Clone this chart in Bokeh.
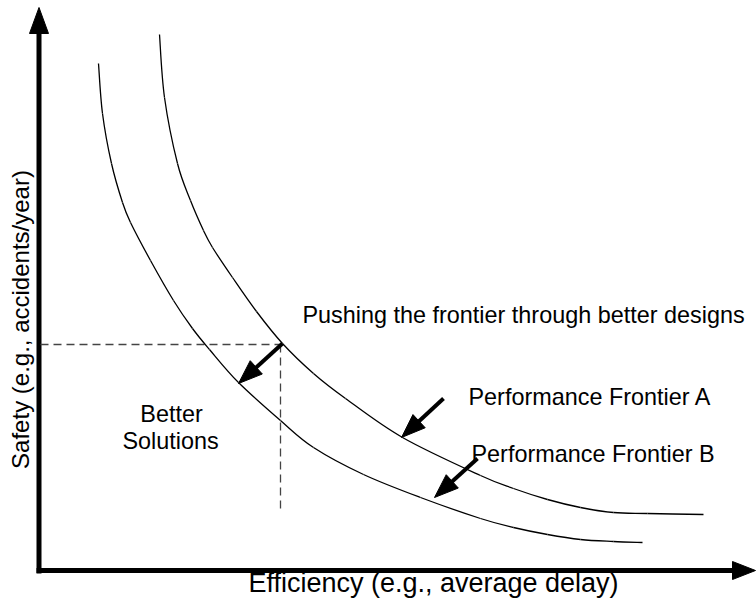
import math
from bokeh.plotting import figure
from bokeh.models import Range1d
from bokeh.core.properties import value
from bokeh.embed import file_html
from bokeh.resources import INLINE

# ---- data (in picture-pixel units) ----
frontier_a_x = [159, 164, 177, 190, 203, 212, 232, 256, 282, 313, 345, 402, 480, 513, 547, 580, 613, 647, 703]
frontier_a_y = [34, 97, 163, 200, 230, 247, 277, 311, 343, 373, 398, 437, 475, 488, 499, 507, 512, 513, 514]

frontier_b_x = [98, 102, 111, 122, 130, 150, 173, 192, 209, 238, 280, 313, 363, 420, 480, 513, 547, 580, 613, 642]
frontier_b_y = [63, 113, 163, 202, 222, 260, 300, 328, 349, 382, 420, 447, 474, 497, 518, 527, 534, 539, 541, 542]

ref_point_x = 280
ref_point_y = 344
dash_left_x = 40
dash_bottom_y = 512

arrow_x0 = [282, 443, 477]
arrow_y0 = [343, 398, 458]
arrow_x1 = [238, 401, 434]
arrow_y1 = [383, 437, 497]

labels = ["Pushing the frontier through better designs", "Performance Frontier A", "Performance Frontier B"]
label_x = [302, 468, 471]
label_y = [324, 406, 463]

region_lines = ["Better", "Solutions"]
region_x = [171, 170]
region_y = [423, 450]

x_title = "Efficiency (e.g., average delay)"
y_title = "Safety (e.g., accidents/year)"

FONT = "Liberation Sans"
W, H = 756, 600
BASE_SHIFT = 0.385  # renderer draws the alphabetic baseline this many em lower

p = figure(width=W, height=H, output_backend="svg", toolbar_location=None,
           x_range=Range1d(0, W), y_range=Range1d(H, 0),
           x_axis_location=None, y_axis_location=None, min_border=0,
           background_fill_color="white", border_fill_color="white")
p.outline_line_color = None
p.xgrid.visible = False
p.ygrid.visible = False


def arrow(x0, y0, x1, y1, head_len, head_half, width):
    dx, dy = x1 - x0, y1 - y0
    n = math.hypot(dx, dy)
    ux, uy = dx / n, dy / n
    bx, by = x1 - ux * head_len, y1 - uy * head_len
    px, py = -uy, ux
    p.line([x0, bx + ux * 2], [y0, by + uy * 2], line_width=width, line_color="black")
    p.patch([x1, bx + px * head_half, bx - px * head_half],
            [y1, by + py * head_half, by - py * head_half],
            fill_color="black", line_color="black", line_width=1)


def smooth_curve(xs, ys, **kw):
    # Catmull-Rom segments through the read points, drawn as cubic Beziers
    n = len(xs)
    x0, y0, x1, y1, cx0, cy0, cx1, cy1 = ([] for _ in range(8))
    for i in range(n - 1):
        xm, ym = (xs[i - 1], ys[i - 1]) if i > 0 else (xs[i], ys[i])
        xp, yp = (xs[i + 2], ys[i + 2]) if i + 2 < n else (xs[i + 1], ys[i + 1])
        x0.append(xs[i]); y0.append(ys[i])
        x1.append(xs[i + 1]); y1.append(ys[i + 1])
        cx0.append(xs[i] + (xs[i + 1] - xm) / 6); cy0.append(ys[i] + (ys[i + 1] - ym) / 6)
        cx1.append(xs[i + 1] - (xp - xs[i]) / 6); cy1.append(ys[i + 1] - (yp - ys[i]) / 6)
    p.bezier(x0=x0, y0=y0, x1=x1, y1=y1, cx0=cx0, cy0=cy0, cx1=cx1, cy1=cy1, **kw)


# axes with arrows
arrow(38.5, 573, 38.5, 7, 26, 9.5, 5)
arrow(36, 570, 755, 570, 23, 9, 5)

# dashed guide lines
p.line([dash_left_x, ref_point_x], [ref_point_y, ref_point_y], line_dash="8 5",
       line_color="#444444", line_width=1.3)
p.line([ref_point_x, ref_point_x], [ref_point_y, dash_bottom_y], line_dash="8 5",
       line_color="#444444", line_width=1.3)

# frontiers
smooth_curve(frontier_a_x, frontier_a_y, line_color="black", line_width=1.3)
smooth_curve(frontier_b_x, frontier_b_y, line_color="black", line_width=1.3)

# pointer arrows
for a, b, c, d in zip(arrow_x0, arrow_y0, arrow_x1, arrow_y1):
    arrow(a, b, c, d, 24, 9, 4)

# labels
fs = 23.4
p.text(x=label_x, y=[v - BASE_SHIFT * fs for v in label_y], text=labels, text_font=value(FONT),
       text_font_size=f"{fs}px", text_align="left", text_baseline="alphabetic", text_color="black")
p.text(x=region_x, y=[v - BASE_SHIFT * fs for v in region_y], text=region_lines, text_font=value(FONT),
       text_font_size=f"{fs}px", text_align="center", text_baseline="alphabetic", text_color="black")
fx = 27
p.text(x=[433], y=[593 - BASE_SHIFT * fx], text=[x_title], text_font=value(FONT), text_font_size=f"{fx}px",
       text_align="center", text_baseline="alphabetic", text_color="black")
fy = 24
p.text(x=[29 - BASE_SHIFT * fy], y=[319], text=[y_title], text_font=value(FONT), text_font_size=f"{fy}px",
       text_align="center", text_baseline="alphabetic", text_color="black", angle=math.pi / 2)

open("out.html", "w").write(file_html(p, INLINE))
